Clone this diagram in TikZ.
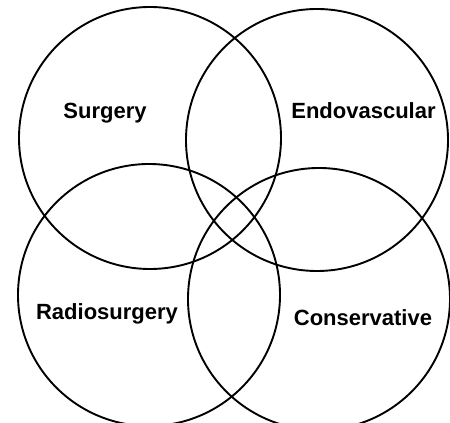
\documentclass[tikz,border=0pt]{standalone}
\usepackage{fontspec}
\setmainfont{Liberation Sans}
\begin{document}
\begin{tikzpicture}[x=1pt,y=1pt,
  ring/.style={draw=black,line width=1.9pt},
  lbl/.style={font=\bfseries\fontsize{22}{24}\selectfont,anchor=base,inner sep=0pt}]
\useasboundingbox (0,0) rectangle (450,423);
\begin{scope}
\clip (0,0) rectangle (450,423);
\draw[ring] (150,285) circle[radius=131] coordinate (cs);
\draw[ring] (317,283) circle[radius=131] coordinate (ce);
\draw[ring] (149,128) circle[radius=131] coordinate (cr);
\draw[ring] (319,124) circle[radius=131] coordinate (cc);
\end{scope}
\node[lbl] (surgery) at (105,304) {Surgery};
\node[lbl] (endo) at (363.5,304) {Endovascular};
\node[lbl] (radio) at (107,103) {Radiosurgery};
\node[lbl] (cons) at (363,97) {Conservative};
\end{tikzpicture}
\end{document}
